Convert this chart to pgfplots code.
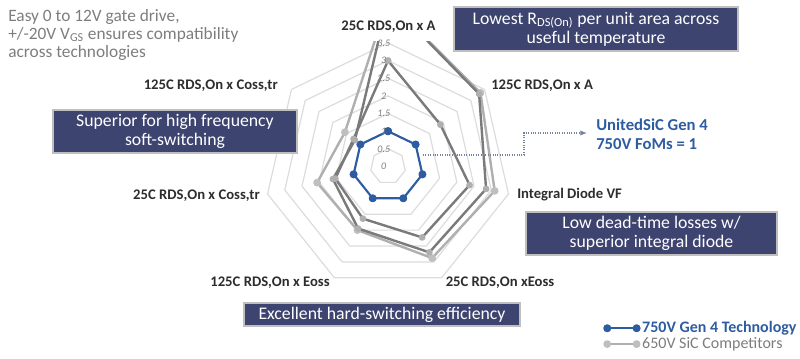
\documentclass[border=0pt]{standalone}
\usepackage{pgfplots}
\pgfplotsset{compat=1.18}
\usepackage{fontspec}
\setmainfont{Carlito}
\usetikzlibrary{arrows.meta}
\definecolor{navy}{RGB}{62,68,112}
\definecolor{bluefom}{RGB}{46,92,160}
\definecolor{txtgray}{RGB}{125,125,125}
\definecolor{gridc}{RGB}{220,220,220}
\definecolor{darkg}{RGB}{122,122,122}
\definecolor{lightg}{RGB}{175,175,175}
\definecolor{lblc}{RGB}{45,45,45}
\begin{document}
\begin{tikzpicture}[x=0.75pt,y=0.75pt]
\path[use as bounding box] (0,0) rectangle (800,-358);
\begin{axis}[at={(183.78pt,-220.18pt)}, anchor=south west, x=26.475pt, y=26.475pt,
  xmin=-4.05, xmax=4.1, ymin=-3.6, ymax=3.55, hide axis, clip mode=individual,
  legend style={draw=none, fill=none, at={(1.234,-0.089)}, anchor=north west,
    font=\fontsize{12}{13}\selectfont, row sep=-2pt, cells={anchor=west}},
  legend image code/.code={\draw[#1] plot coordinates {(0pt,0pt) (22pt,0pt)};}]
\pgfplotsinvokeforeach{0.5,1,1.5,2,2.5,3,3.5}{
  \addplot[gridc, line width=0.9pt, line join=round, forget plot, data cs=polar] coordinates {(90,#1) (38.571,#1) (-12.857,#1) (-64.286,#1) (-115.714,#1) (-167.143,#1) (-218.571,#1) (90,#1)};
}
% 750V Gen 4 (all FoMs = 1)
\addplot[bluefom, line width=1.6pt, line join=round, mark=*, mark size=2.2pt, mark options={fill=bluefom, draw=bluefom}, data cs=polar]
  coordinates {(90,1) (38.571,1) (-12.857,1) (-64.286,1) (-115.714,1) (-167.143,1) (-218.571,1) (90,1)};
\addlegendentry{\textcolor{bluefom}{\bfseries 750V Gen 4 Technology}}
% competitors
\addplot[lightg, line width=1.8pt, line join=round, mark=*, mark size=2pt, mark options={fill=lightg!80, draw=lightg!80}, data cs=polar]
  coordinates {(90,4.7) (38.571,3.35) (-12.857,3.1) (-64.286,2.88) (-115.714,2.0) (-167.143,2.06) (-218.571,1.56) (90,4.7)};
\addlegendentry{\textcolor{txtgray}{650V SiC Competitors}}
\addplot[darkg, line width=1.8pt, line join=round, mark=*, mark size=1.6pt, mark options={fill=lightg, draw=lightg}, forget plot, data cs=polar]
  coordinates {(90,4.7) (38.571,3.3) (-12.857,2.85) (-64.286,2.7) (-115.714,1.95) (-167.143,1.6) (-218.571,1.2) (90,4.7)};
\addplot[darkg, line width=1.8pt, line join=round, mark=*, mark size=1.6pt, mark options={fill=lightg, draw=lightg}, forget plot, data cs=polar]
  coordinates {(90,3.0) (38.571,1.9) (-12.857,2.37) (-64.286,2.23) (-115.714,1.64) (-167.143,1.53) (-218.571,1.25) (90,3.0)};
% radial tick labels
\pgfplotsinvokeforeach{0,0.5,1,1.5,2,2.5,3,3.5}{
  \node[font=\fontsize{7.5}{8}\selectfont\itshape, text=txtgray] at (axis cs:-0.12,#1) {#1};
}
\end{axis}
% dotted pointer
\draw[densely dotted, color=black!45!bluefom!60, line width=0.8pt, -{Latex[length=5pt,width=4pt]}] (423,-155) -- (524,-155) -- (524,-133) -- (587,-133);
\node[anchor=north west, align=left, text=bluefom, font=\fontsize{12.5}{14}\selectfont\bfseries, inner sep=0pt] at (596,-119) {UnitedSiC Gen 4\\750V FoMs = 1};
% top-left note
\node[anchor=north west, align=left, text=txtgray, font=\fontsize{13}{12.8}\selectfont, inner sep=0pt] at (8,-9)
  {Easy 0 to 12V gate drive,\\[0.6pt]+/-20V V\textsubscript{GS} ensures compatibility\\[0.6pt]across technologies};
% axis labels
\begin{scope}[every node/.style={text=lblc, font=\fontsize{11}{12}\selectfont\bfseries, inner sep=0pt}]
\node at (388.5,-27) {25C RDS,On x A};
\node[anchor=west] at (491,-86) {125C RDS,On x A};
\node[anchor=west] at (517,-195) {Integral Diode VF};
\node at (500,-283) {25C RDS,On xEoss};
\node at (270,-283) {125C RDS,On x Eoss};
\node[anchor=east] at (260,-196) {25C RDS,On x Coss,tr};
\node[anchor=east] at (278,-86) {125C RDS,On x Coss,tr};
\end{scope}
% boxes
\begin{scope}[every node/.style={text=white, font=\fontsize{13.3}{14.5}\selectfont, align=center}]
\draw[fill=navy, draw=black!25, line width=0.8pt] (454,-7) rectangle (738,-51);
\node at (596,-29) {Lowest R\textsubscript{DS(On)} per unit area across\\useful temperature};
\draw[fill=navy, draw=black!25, line width=0.8pt] (53,-110) rectangle (297,-153);
\node at (175,-131.5) {Superior for high frequency\\soft-switching};
\draw[fill=navy, draw=black!25, line width=0.8pt] (526,-212) rectangle (777,-255);
\node at (651.5,-233.5) {Low dead-time losses w/\\superior integral diode};
\draw[fill=navy, draw=black!25, line width=0.8pt] (244,-303) rectangle (520,-326);
\node at (382,-314.5) {Excellent hard-switching efficiency};
\end{scope}
\end{tikzpicture}
\end{document}
